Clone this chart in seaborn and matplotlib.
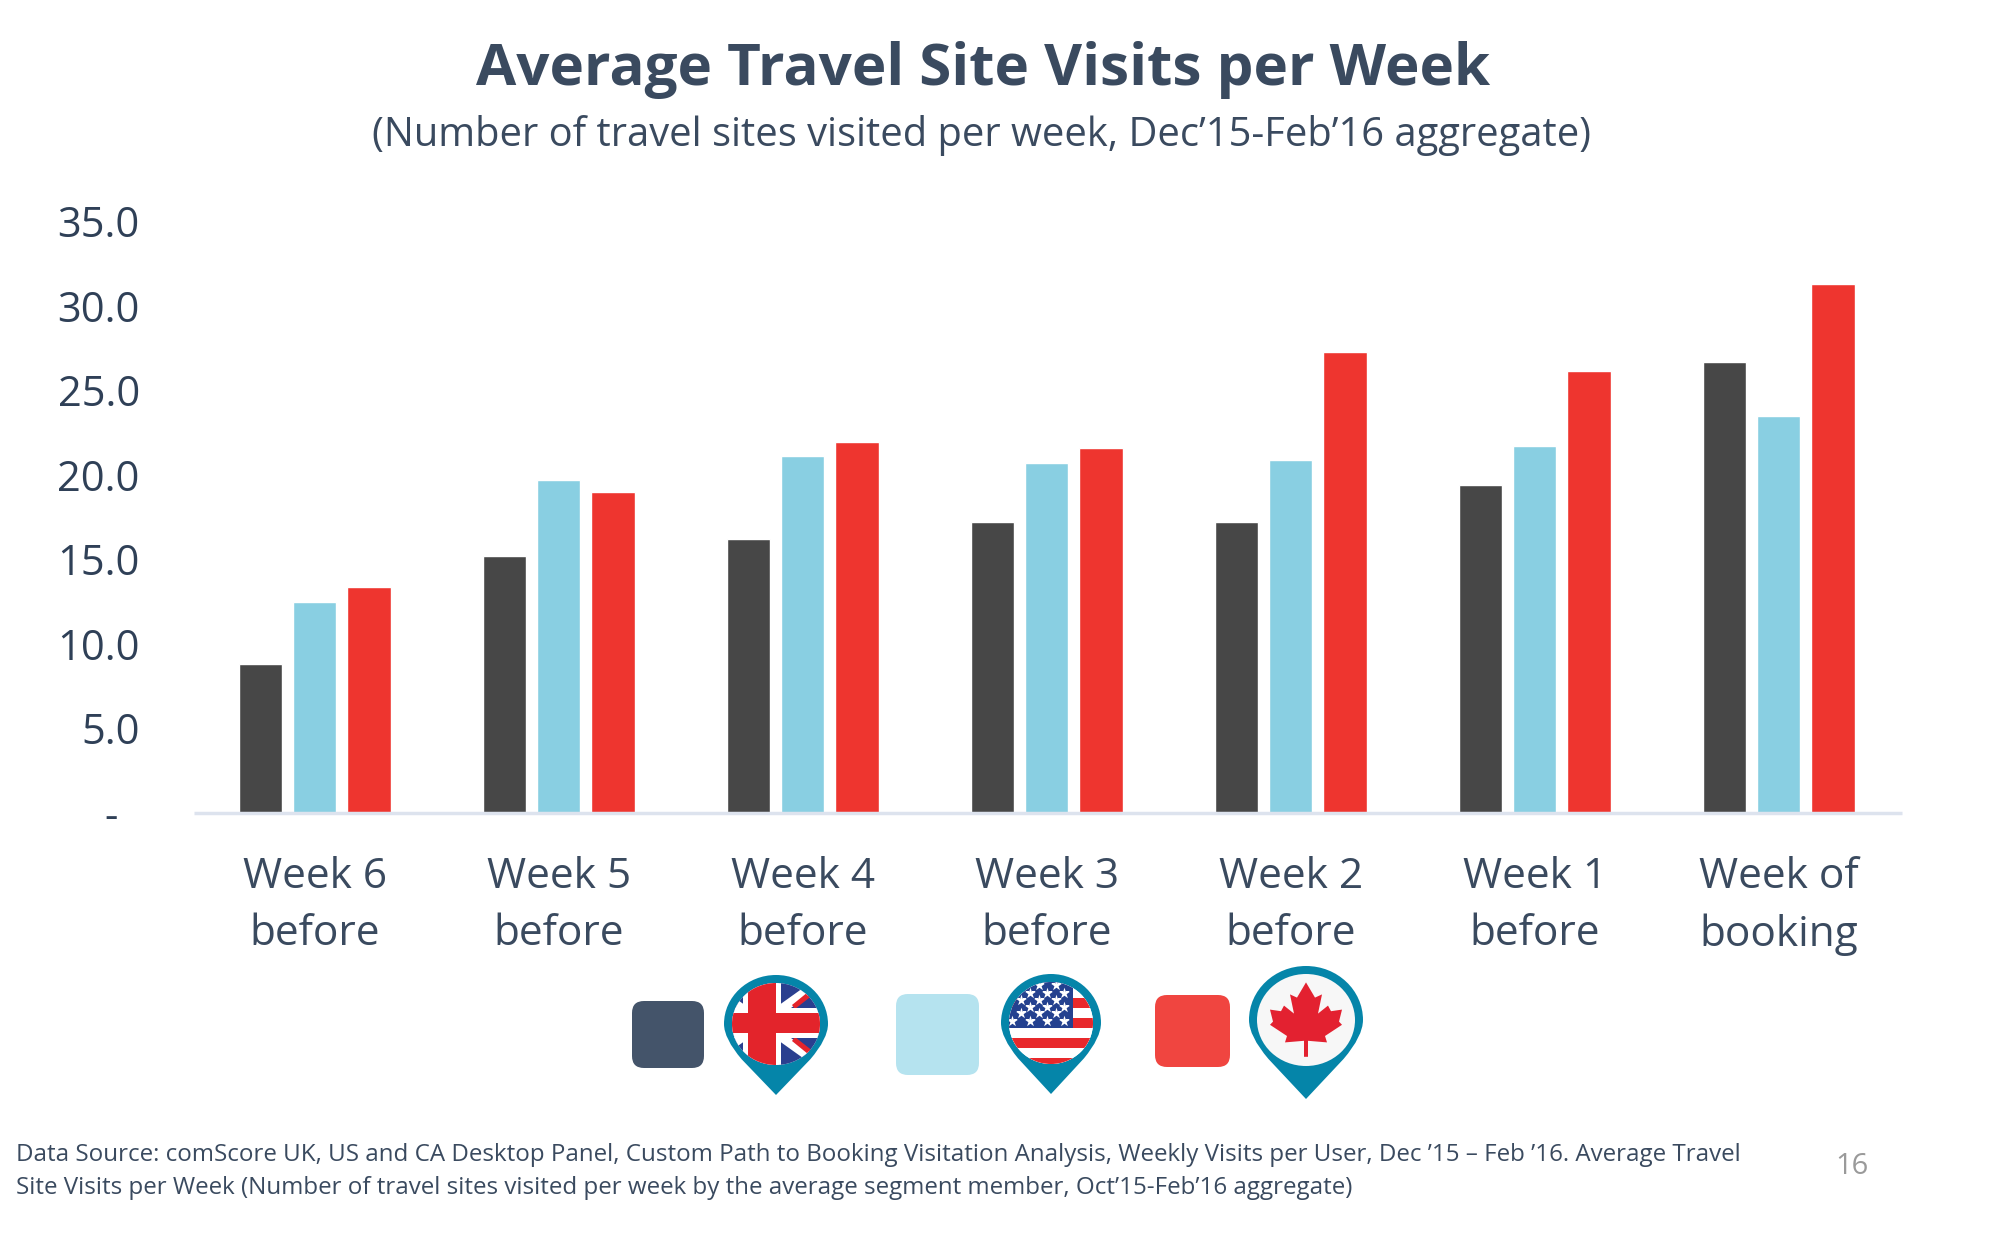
#!/usr/bin/python

import numpy as np
import pandas as pd
import matplotlib.pyplot as plt
import seaborn as sns
from matplotlib.patches import Ellipse, FancyBboxPatch, PathPatch, Polygon, Rectangle
from matplotlib.path import Path

weeks = ['Week 6\nbefore', 'Week 5\nbefore', 'Week 4\nbefore', 'Week 3\nbefore',
         'Week 2\nbefore', 'Week 1\nbefore', 'Week of\nbooking']
uk = [8.8, 15.2, 16.2, 17.2, 17.2, 19.4, 26.65]
us = [12.5, 19.7, 21.1, 20.7, 20.85, 21.7, 23.5]
ca = [13.35, 19.0, 21.95, 21.6, 27.25, 26.15, 31.3]
countries = ['UK', 'US', 'CA']
bar_colors = ['#474747', '#89CFE2', '#EE352F']
y_ticks = [0, 5, 10, 15, 20, 25, 30, 35]
y_labels = ['-  ', '5.0', '10.0', '15.0', '20.0', '25.0', '30.0', '35.0']

W, H = 2006, 1236
TEXT = '#3A4A5F'
TEAL = '#0585A9'

sns.set_theme(style='white')
plt.rcParams['font.family'] = ['Open Sans', 'DejaVu Sans']

df = pd.DataFrame({'week': weeks * 3,
                   'visits': uk + us + ca,
                   'country': np.repeat(countries, len(weeks))})

fig = plt.figure(figsize=(W / 100, H / 100), dpi=100)
ax = fig.add_axes([194 / W, 1 - 813 / H, 1708 / W, 592 / H])
sns.barplot(data=df, x='week', y='visits', hue='country', palette=bar_colors, saturation=1,
            width=0.665, gap=0.2, legend=False, ax=ax)
ax.set_xlim(-0.495, 6.505)
ax.set_ylim(0, 35)
ax.set_xlabel('')
ax.set_ylabel('')
ax.set_yticks(y_ticks)
ax.set_yticklabels(y_labels)
ax.tick_params(axis='y', length=0, pad=39, labelsize=30, labelcolor='#2F4057')
ax.tick_params(axis='x', length=0, pad=31, labelsize=30.5, labelcolor=TEXT)
for lab in ax.get_xticklabels():
    lab.set_linespacing(1.47)
sns.despine(ax=ax, left=True)
ax.spines['bottom'].set_color('#DDE3EE')
ax.spines['bottom'].set_linewidth(2.5)
ax.spines['bottom'].set_capstyle('butt')

fig.text(0.49, 1 - 70 / H, 'Average Travel Site Visits per Week', ha='center', va='center',
         fontsize=42, fontweight='bold', color=TEXT)
fig.text(0.4895, 1 - 136 / H, '(Number of travel sites visited per week, Dec\u201915-Feb\u201916 aggregate)',
         ha='center', va='center', fontsize=28.7, color=TEXT)
fig.text(16 / W, 1 - 1155 / H,
         'Data Source: comScore UK, US and CA Desktop Panel, Custom Path to Booking Visitation Analysis, '
         'Weekly Visits per User, Dec \u201915 \u2013 Feb \u201916. Average Travel',
         ha='left', va='center', fontsize=17.4, color=TEXT)
fig.text(16 / W, 1 - 1188 / H,
         'Site Visits per Week (Number of travel sites visited per week by the average segment member, '
         'Oct\u201915-Feb\u201916 aggregate)',
         ha='left', va='center', fontsize=17.4, color=TEXT)
fig.text(1852 / W, 1 - 1167 / H, '16', ha='center', va='center', fontsize=21, color='#9A9A9A')

# legend swatches and map pins, drawn on an overlay in pixel coords
ov = fig.add_axes([0, 0, 1, 1])
ov.set_xlim(0, W)
ov.set_ylim(H, 0)
ov.axis('off')
ov.patch.set_alpha(0)


def swatch(x0, x1, y0, y1, color):
    ov.add_patch(FancyBboxPatch((x0 + 12, y0 + 12), x1 - x0 - 24, y1 - y0 - 24,
                                boxstyle='round,pad=12,rounding_size=12', fc=color, ec='none'))


def pin(cx, cy, rx, ry, tip, ring, face):
    # teardrop: ellipse with a point below it
    k = 0.5523
    top = cy - ry
    verts = [(cx, tip), (cx - rx * 0.66, cy + ry * 0.72),
             (cx - rx * 1.0, cy + ry * 0.3), (cx - rx, cy),
             (cx - rx, cy - ry * k), (cx - rx * k, top), (cx, top),
             (cx + rx * k, top), (cx + rx, cy - ry * k), (cx + rx, cy),
             (cx + rx * 1.0, cy + ry * 0.3), (cx + rx * 0.66, cy + ry * 0.72),
             (cx, tip), (cx, tip)]
    codes = [Path.MOVETO, Path.LINETO, Path.CURVE3, Path.CURVE3,
             Path.CURVE4, Path.CURVE4, Path.CURVE4,
             Path.CURVE4, Path.CURVE4, Path.CURVE4,
             Path.CURVE3, Path.CURVE3, Path.LINETO, Path.CLOSEPOLY]
    ov.add_patch(PathPatch(Path(verts, codes), fc=TEAL, ec='none'))
    hole = Ellipse((cx, cy), 2 * (rx - ring), 2 * (ry - ring), fc=face, ec='none')
    ov.add_patch(hole)
    return hole


def clipped(artist, hole):
    ov.add_artist(artist)
    artist.set_clip_path(hole)


swatch(632, 704, 1001, 1068, '#44546A')
swatch(896, 979, 994, 1075, '#B5E3EF')
swatch(1155, 1230, 995, 1067, '#F04540')

# UK
cx, cy = 776, 1024
hole = pin(cx, cy, 52, 49, 1095, 8, 'white')
blue, red = '#2A3F8F', '#E3242B'
clipped(Rectangle((cx - 50, cy - 45), 100, 90, fc=blue, ec='none'), hole)
mx, my = cx - 14, cy - 1
for dx, dy in [(70, 50), (70, -50), (-70, 50), (-70, -50)]:
    clipped(Polygon([(mx - 8, my), (mx + 8, my), (mx + dx + 8, my + dy), (mx + dx - 8, my + dy)],
                    fc='white', ec='none'), hole)
clipped(Polygon([(mx + 30, my - 18), (mx + 33, my - 14), (mx + 66, my - 40), (mx + 62, my - 44)], fc=red, ec='none'), hole)
clipped(Polygon([(mx + 30, my + 18), (mx + 33, my + 14), (mx + 66, my + 40), (mx + 62, my + 44)], fc=red, ec='none'), hole)
clipped(Rectangle((cx - 50, my - 15), 100, 30, fc='white', ec='none'), hole)
clipped(Rectangle((mx - 19, cy - 45), 38, 90, fc='white', ec='none'), hole)
clipped(Rectangle((cx - 50, my - 10), 100, 20, fc=red, ec='none'), hole)
clipped(Rectangle((mx - 14, cy - 45), 28, 90, fc=red, ec='none'), hole)

# US
cx, cy = 1051, 1023
hole = pin(cx, cy, 50, 49, 1094, 8, 'white')
clipped(Rectangle((cx - 50, cy - 45), 100, 90, fc='white', ec='none'), hole)
for y0 in (-25, -5, 15, 35):
    clipped(Rectangle((cx - 50, cy + y0), 100, 10, fc='#E8282B', ec='none'), hole)
clipped(Rectangle((cx - 50, cy - 45), 72, 50, fc='#24418F', ec='none'), hole)
star_x = [1039, 1056, 1030, 1047, 1064, 1021, 1039, 1056, 1030, 1047, 1064, 1021, 1039, 1056, 1012, 1030, 1047, 1064]
star_y = [985, 985, 993, 993, 993, 1000, 1000, 1000, 1007, 1007, 1007, 1013, 1013, 1013, 1021, 1021, 1021, 1021]
stars = ov.scatter(star_x, star_y, marker='*', s=70, c='white', linewidths=0, zorder=3)
stars.set_clip_path(hole)

# Canada
cx, cy = 1306, 1020
hole = pin(cx, cy, 57, 54, 1099, 8, '#F7F7F7')
leaf = [(0, -47), (9, -28), (16, -32), (12, -8), (22, -18), (25, -11), (36, -13), (33, 2), (36, 6),
        (19, 20), (21, 28), (2, 26), (2, 46), (-2, 46), (-2, 26), (-21, 28), (-19, 20), (-36, 6), (-33, 2),
        (-36, -13), (-25, -11), (-22, -18), (-12, -8), (-16, -32), (-9, -28)]
ov.add_patch(Polygon([(cx + x, cy + y * 0.8) for x, y in leaf], fc='#E32130', ec='none'))

fig.savefig('out.png', dpi=100)
